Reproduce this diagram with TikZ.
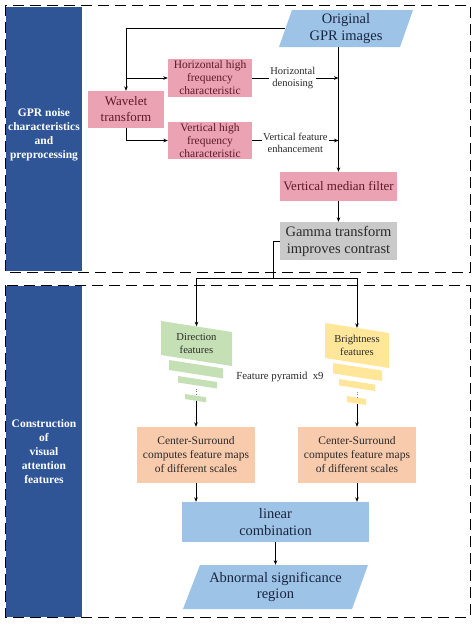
\documentclass[tikz,border=0pt]{standalone}
\usepackage{fontspec}
\setmainfont{Liberation Serif}
\usetikzlibrary{arrows.meta,calc}
\definecolor{sidebarc}{HTML}{2F5597}
\definecolor{pinkc}{HTML}{EBA3B3}
\definecolor{pinktext}{HTML}{5C1A2B}
\definecolor{grayc}{HTML}{C9C9C9}
\definecolor{greenc}{HTML}{C5E0B4}
\definecolor{yellowc}{HTML}{FFE699}
\definecolor{salmonc}{HTML}{F8CBAD}
\definecolor{bluec}{HTML}{9DC3E6}
\definecolor{navytext}{HTML}{1A2540}
\definecolor{darktext}{HTML}{2A2A2A}
\newcommand{\myfs}[2]{\fontsize{#1}{#2}\selectfont}
\begin{document}
\begin{tikzpicture}[x=1pt,y=-1pt,
  arr/.style={-{Stealth[length=4.5pt,width=3.6pt]}, line width=0.8pt},
  ln/.style={line width=0.8pt},
  framebox/.style={dash pattern=on 11pt off 6pt, line width=1pt},
  txt/.style={rectangle, inner sep=0pt, align=center},
  pinkb/.style={txt, fill=pinkc, text=pinktext},
  sidetext/.style={txt, text=white, font=\bfseries\myfs{11.5}{14}},
  lbl/.style={txt, fill=white, inner sep=1pt, text=darktext, font=\myfs{10.5}{12}}]
\useasboundingbox (0,0) rectangle (474,625);
\fill[white] (0,0) rectangle (474,625);
% sidebars
\fill[sidebarc] (6,7) rectangle (82,271);
\fill[sidebarc] (6,286) rectangle (82,617);
\draw[framebox] (5,5) rectangle (470,272);
\draw[framebox] (5,285) rectangle (470,617);
\node[sidetext] (s1) at (44,135) {GPR noise\\characteristics\\and\\preprocessing};
\node[sidetext] (s2) at (44,452) {Construction\\of\\visual\\attention\\features};
% parallelogram / skewed fills
\fill[bluec] (292,10) -- (413,10) -- (400,47) -- (279,47) -- cycle;
\fill[bluec] (200,565) -- (368,565) -- (352,609) -- (183,609) -- cycle;
\fill[greenc] (161,321) -- (232,332) -- (232,366) -- (161,355) -- cycle;
\fill[greenc] (169,360) -- (223,368.4) -- (223,378.4) -- (169,370) -- cycle;
\fill[greenc] (178,376) -- (217,382) -- (217,388.5) -- (178,382.5) -- cycle;
\fill[greenc] (185,394) -- (206,397.3) -- (206,402.3) -- (185,399) -- cycle;
\draw[gray, line width=0.5pt, dotted] (196,388.5) -- (196,394.5);
\fill[yellowc] (325,323) -- (389,333) -- (389,368) -- (325,358) -- cycle;
\fill[yellowc] (333,363) -- (382,370.6) -- (382,381) -- (333,373.4) -- cycle;
\fill[yellowc] (339,379) -- (375,384.6) -- (375,391) -- (339,385.4) -- cycle;
\fill[yellowc] (347,396) -- (366,399) -- (366,405) -- (347,402) -- cycle;
\draw[gray, line width=0.5pt, dotted] (357,391.5) -- (357,397.5);
\coordinate (d3) at (196,401);
\coordinate (b3) at (357,404);
% nodes
\node[txt, minimum width=121pt, minimum height=37pt, text=navytext, font=\myfs{14.5}{17}] (orig) at (346,28.5) {Original\\GPR images};
\node[pinkb, minimum width=84pt, minimum height=38pt, font=\myfs{11.5}{13}] (hh) at (210,78) {Horizontal high\\frequency\\characteristic};
\node[pinkb, minimum width=76pt, minimum height=37pt, font=\myfs{13}{16}] (wav) at (126,109.5) {Wavelet\\transform};
\node[pinkb, minimum width=84pt, minimum height=37pt, font=\myfs{11.5}{13}] (vh) at (210,140.5) {Vertical high\\frequency\\characteristic};
\node[pinkb, minimum width=117pt, minimum height=29pt, font=\myfs{13}{16}] (vmf) at (338.5,186.5) {Vertical median filter};
\node[txt, fill=grayc, text=darktext, minimum width=117pt, minimum height=38pt, font=\myfs{14.5}{17}] (gam) at (338.5,241) {Gamma transform\\improves contrast};
\node[txt, minimum width=71pt, minimum height=34pt, text=darktext, font=\myfs{10.6}{13}] (dir) at (196.5,343.5) {Direction\\features};
\node[txt, minimum width=64pt, minimum height=35pt, text=darktext, font=\myfs{10.6}{13}] (bri) at (357,345.5) {Brightness\\features};
\node[txt, text=darktext, font=\myfs{10.8}{13}] (pyr) at (280,377) {Feature pyramid\ \ x9};
\node[txt, fill=salmonc, text=darktext, minimum width=118pt, minimum height=56pt, font=\myfs{11.5}{14}] (csl) at (196,455) {Center-Surround\\computes feature maps\\of different scales};
\node[txt, fill=salmonc, text=darktext, minimum width=118pt, minimum height=56pt, font=\myfs{11.5}{14}] (csr) at (357,455) {Center-Surround\\computes feature maps\\of different scales};
\node[txt, fill=bluec, text=navytext, minimum width=187pt, minimum height=40pt, font=\myfs{14.5}{16.7}] (lin) at (275.5,522) {linear\\combination};
\node[txt, text=navytext, minimum width=168pt, minimum height=44pt, font=\myfs{14.5}{16.7}] (abn) at (275.5,587) {Abnormal significance\\region};
% connectors
\draw[arr] (orig.west) -| (wav.north);
\draw[arr] (wav.north |- hh.west) -- (hh.west);
\draw[arr] (wav.south) |- (vh.west);
\draw[arr] (hh.east) -- (hh.east -| vmf.north) node[lbl, pos=0.47] {Horizontal\\denoising};
\draw[arr] (vh.east) -- (vh.east -| vmf.north) node[lbl, pos=0.5, yshift=-2pt] {Vertical feature\\enhancement};
\draw[arr] (vmf.north |- orig.south) -- (vmf.north);
\draw[arr] (vmf.south) -- (gam.north);
\coordinate (split) at (273,278);
\draw[ln] (gam.west) -| (split);
\draw[arr] (split) -| (dir.north);
\draw[arr] (split) -| (bri.north);
\draw[arr] (d3) -- (csl.north);
\draw[arr] (b3) -- (csr.north);
\draw[arr] (csl.south) -- (csl.south |- lin.north);
\draw[arr] (csr.south) -- (csr.south |- lin.north);
\draw[arr] (lin.south) -- (abn.north);
\end{tikzpicture}
\end{document}
